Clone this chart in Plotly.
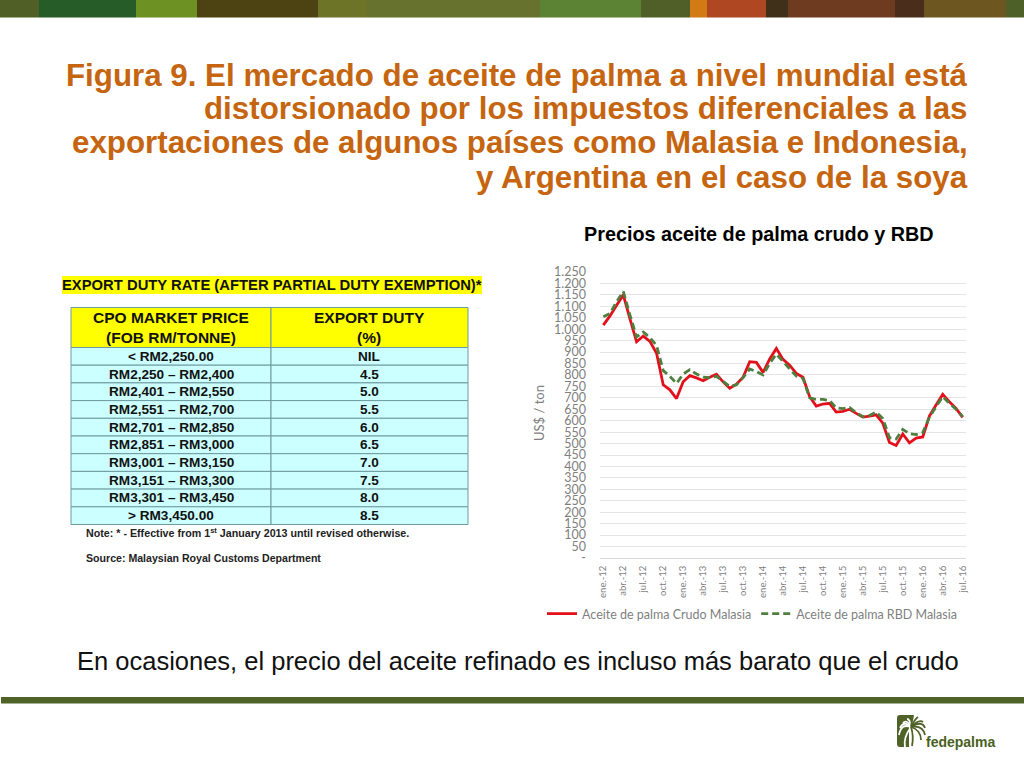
import plotly.graph_objects as go

W, H = 1024, 768

# Chart data
months = ["ene", "feb", "mar", "abr", "may", "jun", "jul", "ago", "sep", "oct", "nov", "dic"]
labels = [f"{m}.-{y}" for y in (12, 13, 14, 15) for m in months] + [f"{m}.-16" for m in months[:7]]

crudo = [1018, 1058, 1105, 1150, 1045, 945, 970, 947, 895, 757, 735, 697,
         770, 797, 787, 775, 790, 803, 770, 742, 760, 790, 858, 855,
         811, 870, 916, 868, 843, 807, 790, 705, 664, 673, 676, 638,
         641, 650, 632, 616, 620, 626, 589, 505, 492, 542, 503, 524,
         529, 620, 669, 715, 683, 654, 615]
rbd = [1054, 1069, 1120, 1165, 1062, 966, 988, 963, 929, 819, 794, 763,
       804, 823, 804, 791, 788, 794, 772, 750, 757, 788, 826, 815,
       800, 851, 891, 858, 825, 795, 785, 700, 693, 693, 688, 656,
       653, 658, 635, 618, 623, 638, 610, 526, 520, 562, 543, 539,
       548, 615, 661, 705, 676, 650, 618]

y_ticks = list(range(0, 1251, 50))
y_text = ["-" if v == 0 else f"{v:,}".replace(",", ".") for v in y_ticks]

# Table contents
header_col = ["CPO MARKET PRICE<br>(FOB RM/TONNE)", "EXPORT DUTY<br>(%)"]
price_col = ["&lt; RM2,250.00", "RM2,250 – RM2,400", "RM2,401 – RM2,550", "RM2,551 – RM2,700",
             "RM2,701 – RM2,850", "RM2,851 – RM3,000", "RM3,001 – RM3,150", "RM3,151 – RM3,300",
             "RM3,301 – RM3,450", "&gt; RM3,450.00"]
duty_col = ["NIL", "4.5", "5.0", "5.5", "6.0", "6.5", "7.0", "7.5", "8.0", "8.5"]

title_lines = ["Figura 9. El mercado de aceite de palma a nivel mundial está",
               "distorsionado por los impuestos diferenciales a las",
               "exportaciones de algunos países como Malasia e Indonesia,",
               "y Argentina en el caso de la soya"]
title_y = [75, 108.5, 143, 177]

# Top colour band
band_x = [0, 39, 136, 197, 318, 367, 540, 641, 690, 707, 766, 788, 895, 924, 1006, 1024]
band_colors = ["#4F5F26", "#265C28", "#6D9223", "#4D4212", "#6D7327", "#67722F", "#5C8333",
               "#505F28", "#D27B14", "#AE4722", "#40301A", "#6F3B20", "#4A2D1A", "#6E5620", "#4D6028"]


def px(x):
    return x / W


def py(y):
    return 1 - y / H


def text(s, x, y, size, color="#000000", anchor="center", family="Liberation Sans", angle=0):
    fig.add_annotation(text=s, x=px(x), y=py(y), xref="paper", yref="paper", showarrow=False,
                       xanchor=anchor, yanchor="middle", textangle=angle,
                       font=dict(family=family, size=size, color=color))


def rect(x0, y0, x1, y1, color, line=None):
    fig.add_shape(type="rect", xref="paper", yref="paper", x0=px(x0), x1=px(x1), y0=py(y0), y1=py(y1),
                  fillcolor=color, line=dict(color=line, width=1) if line else dict(width=0), layer="below")


def frond(x_end, y_end, x_c, y_c, color):
    fig.add_shape(type="path", xref="paper", yref="paper", layer="above", line=dict(color=color, width=1.8),
                  path=f"M {px(911)},{py(727)} Q {px(x_c)},{py(y_c)} {px(x_end)},{py(y_end)}")


fig = go.Figure()

fig.add_trace(go.Scatter(x=labels, y=crudo, mode="lines", name="Aceite de palma Crudo Malasia",
                         line=dict(color="#E3101B", width=2.8)))
fig.add_trace(go.Scatter(x=labels, y=rbd, mode="lines", name="Aceite de palma RBD Malasia",
                         line=dict(color="#4F7F3F", width=2.8, dash="7px,4px")))

for i, c in enumerate(band_colors):
    rect(band_x[i], 0, band_x[i + 1], 17.5, c)
rect(1, 697, W, 703.5, "#4F6228")
rect(62, 276, 482, 294, "#FFFF00")

# Export duty table
tbl_x = [71, 271, 468]
tbl_top, head_h, row_h = 307.5, 40, 17.7
rect(tbl_x[0], tbl_top, tbl_x[1], tbl_top + head_h, "#FFFF00", "#6E9AA0")
rect(tbl_x[1], tbl_top, tbl_x[2], tbl_top + head_h, "#FFFF00", "#6E9AA0")
text(f"<b>{header_col[0]}</b>", 171, tbl_top + head_h / 2, 15.5, "#111111")
text(f"<b>{header_col[1]}</b>", 369, tbl_top + head_h / 2, 15.5, "#111111")
for i, (price, duty) in enumerate(zip(price_col, duty_col)):
    y0 = tbl_top + head_h + i * row_h
    rect(tbl_x[0], y0, tbl_x[1], y0 + row_h, "#CCFFFF", "#6E9AA0")
    rect(tbl_x[1], y0, tbl_x[2], y0 + row_h, "#CCFFFF", "#6E9AA0")
    text(f"<b>{price}</b>", 171, y0 + row_h / 2, 13.6, "#111111")
    text(f"<b>{duty}</b>", 369, y0 + row_h / 2, 13.6, "#111111")

for line, y in zip(title_lines, title_y):
    text(f"<b>{line}</b>", 970, y, 31.3, "#C6650F", "right")

text("<b>Precios aceite de palma crudo y RBD</b>", 759, 234, 19.8)
text("<b>EXPORT DUTY RATE (AFTER PARTIAL DUTY EXEMPTION)*</b>", 60, 285, 14.8, "#111111", "left")
text("<b>Note: * - Effective from 1<sup>st</sup> January 2013 until revised otherwise.</b>",
     84, 532, 10.7, "#222222", "left")
text("<b>Source: Malaysian Royal Customs Department</b>", 84, 558, 10.6, "#222222", "left")
text("En ocasiones, el precio del aceite refinado es incluso más barato que el crudo", 518, 661, 25.5, "#111111")
text("US$ / ton", 539, 413, 13, "#7F7F7F", family="Lato", angle=-90)

# fedepalma logo
fig.add_shape(type="path", xref="paper", yref="paper", layer="above", line_width=0, fillcolor="#4F6228",
              path=" ".join(["M", f"{px(900)},{py(715)}", "L", f"{px(914)},{py(715)}", "L", f"{px(909)},{py(727)}",
                             "L", f"{px(909)},{py(747)}", "L", f"{px(900)},{py(747)}",
                             "Q", f"{px(897)},{py(747)} {px(897)},{py(744)}", "L", f"{px(897)},{py(718)}",
                             "Q", f"{px(897)},{py(715)} {px(900)},{py(715)}", "Z"]))
for x_end, y_end, x_c, y_c in [(899, 735, 901, 723), (900, 728, 904, 720), (903, 723, 907, 719), (907, 719, 910, 719)]:
    frond(x_end, y_end, x_c, y_c, "#FFFFFF")
for x_end, y_end, x_c, y_c in [(913, 716, 912, 720), (918, 717, 915, 719), (923, 722, 919, 719),
                               (925, 728, 922, 720), (925, 735, 923, 725), (921, 740, 921, 730)]:
    frond(x_end, y_end, x_c, y_c, "#4F6228")
frond(905, 747, 903, 738, "#FFFFFF")
frond(912, 746, 914, 736, "#4F6228")
text("<b>fedepalma</b>", 924, 742, 14, "#4A5F22", "left")

fig.update_xaxes(domain=[px(600), px(966)], type="category", categoryorder="array", categoryarray=labels,
                 range=[-0.5, 54.5], tickmode="array", tickvals=labels[::3], ticktext=labels[::3],
                 tickangle=-90, tickfont=dict(family="Lato", size=9.5, color="#7F7F7F"), ticklabelstandoff=3,
                 showgrid=False, showline=True, linecolor="#D9D9D9", linewidth=1, ticks="", zeroline=False)
fig.update_yaxes(domain=[py(558), py(272)], range=[0, 1250], tickmode="array", tickvals=y_ticks, ticktext=y_text,
                 tickfont=dict(family="Lato", size=12.5, color="#7F7F7F"), gridcolor="#E4E4E4", gridwidth=1,
                 zeroline=False, showline=False, ticks="", ticklen=0, ticklabelstandoff=13)
fig.update_layout(
    width=W, height=H, autosize=False, margin=dict(l=0, r=0, t=0, b=0, autoexpand=False),
    paper_bgcolor="#FFFFFF", plot_bgcolor="#FFFFFF",
    legend=dict(orientation="h", x=px(752), xanchor="center", y=py(614), yanchor="middle",
                font=dict(family="Lato", size=12.5, color="#7F7F7F"), itemwidth=30, bgcolor="rgba(0,0,0,0)"),
)

fig.write_html("out.html", config=dict(displayModeBar=False),
               post_script="document.body.style.margin='0';document.body.style.overflow='hidden';")
